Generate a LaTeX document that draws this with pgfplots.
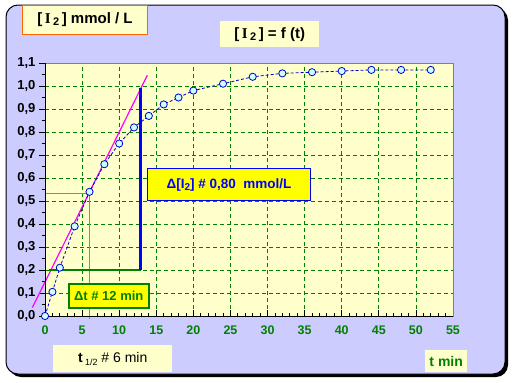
\documentclass[border=0pt]{standalone}
\usepackage{pgfplots}
\pgfplotsset{compat=1.18}
\usepackage{fontspec}
\setmainfont{Liberation Sans}
\newfontfamily\serif{Liberation Serif}
\definecolor{lav}{HTML}{CCCCFF}
\definecolor{ly}{HTML}{FFFFCC}
\definecolor{dg}{HTML}{008000}
\definecolor{mk}{HTML}{CCFFFF}
\definecolor{orng}{HTML}{FF6600}
\definecolor{dblue}{HTML}{0000CC}
\definecolor{yel}{HTML}{FFFF00}
\definecolor{mag}{HTML}{FF00FF}
\begin{document}
\begin{tikzpicture}
\path (0pt,0pt) rectangle (515pt,-383pt);
\fill[black, rounded corners=12pt] (9pt,-8pt) rectangle (508pt,-377pt);
\filldraw[fill=lav, draw=black, line width=1pt, rounded corners=12pt] (6pt,-5pt) rectangle (505pt,-374pt);
\begin{axis}[at={(45pt,-316pt)}, anchor=south west, scale only axis,
  width=408pt, height=253pt,
  xmin=0, xmax=55, ymin=0, ymax=1.1,
  clip=false,
  xtick={0,5,10,15,20,25,30,35,40,45,50,55},
  ytick={0,0.1,0.2,0.3,0.4,0.5,0.6,0.7,0.8,0.9,1.0,1.1},
  minor x tick num=4, minor y tick num=1,
  grid=major,
  major grid style={dg, dash pattern=on 4pt off 3pt, line width=0.8pt},
  minor grid style={draw=none},
  axis line style={gray, line width=0.8pt},
  axis background/.style={fill=ly},
  tick pos=left,
  tick align=outside,
  major tick length=6pt, minor tick length=3pt,
  tick style={black, line width=0.8pt},
  major x tick style={yshift=6pt},
  minor x tick style={yshift=3pt},
  /pgf/number format/assume math mode=true,
  xticklabel style={dg, font=\bfseries\fontsize{12.5}{14}\selectfont},
  yticklabel style={black, font=\bfseries\fontsize{13}{14}\selectfont,
    /pgf/number format/.cd, fixed, fixed zerofill, precision=1, use comma},
]
\addplot[orng, line width=0.8pt] coordinates {(0,0.535) (6,0.535) (6,-0.014)};
\addplot[mag, line width=1.2pt] coordinates {(-1.7,0.037) (13.8,1.047)};
\addplot[dg, line width=2.5pt] coordinates {(0.5,0.2) (12.9,0.2)};
\addplot[blue, line width=2.5pt] coordinates {(12.9,0.2) (12.9,0.99)};
\addplot[dblue, line width=0.8pt, dash pattern=on 3pt off 2pt, mark=*,
  mark size=3.6pt, mark options={solid, fill=mk, draw=dblue, line width=0.8pt}]
  coordinates {
  (0,0) (1,0.105) (2,0.21) (4,0.39) (6,0.54) (8,0.66) (10,0.75) (12,0.82)
  (14,0.87) (16,0.92) (18,0.95) (20,0.98) (24,1.01) (28,1.04) (32,1.055)
  (36,1.06) (40,1.065) (44,1.07) (48,1.07) (52,1.07)};
\draw[black, line width=1pt] (rel axis cs:0,1) -- (rel axis cs:0,0) -- (rel axis cs:1,0);
\end{axis}
% boxes
\node[draw=orng, fill=ly, line width=1pt, anchor=north west, minimum width=125pt,
  minimum height=29pt, inner sep=0pt, font=\bfseries\fontsize{15}{16}\selectfont]
  at (22pt,-5pt) {[\,{\serif I}\,\raisebox{-2pt}{\fontsize{11}{12}\selectfont 2}\,] mmol / L};
\node[fill=ly, anchor=north west, minimum width=99pt, minimum height=26pt, inner sep=0pt,
  font=\bfseries\fontsize{15}{16}\selectfont]
  at (220pt,-21pt) {[\,{\serif I}\,\raisebox{-2pt}{\fontsize{11}{12}\selectfont 2}\,] = f (t)};
\node[draw=dg, fill=yel, line width=1.5pt, anchor=north west, minimum width=80pt,
  minimum height=24pt, inner sep=0pt, text=dg, font=\bfseries\fontsize{13}{14}\selectfont]
  at (68pt,-283pt) {Δt \# 12 min};
\node[draw=blue, fill=yel, line width=1.2pt, anchor=north west, minimum width=163pt,
  minimum height=32pt, inner sep=0pt, text=blue, font=\bfseries\fontsize{13.5}{14}\selectfont]
  at (147pt,-168pt) {Δ[I\raisebox{-2pt}{\fontsize{10}{11}\selectfont 2}] \# 0,80\ \ mmol/L};
\node[fill=ly, anchor=north west, minimum width=119pt, minimum height=27pt, inner sep=0pt,
  font=\fontsize{14}{16}\selectfont]
  at (53pt,-345pt) {\textbf{t}\,\raisebox{-3pt}{\fontsize{9}{10}\selectfont 1/2} \# 6 min};
\node[fill=ly, anchor=north west, minimum width=42pt, minimum height=22pt, inner sep=0pt,
  text=dg, font=\bfseries\fontsize{14}{16}\selectfont]
  at (425pt,-350pt) {t min};
\end{tikzpicture}
\end{document}
